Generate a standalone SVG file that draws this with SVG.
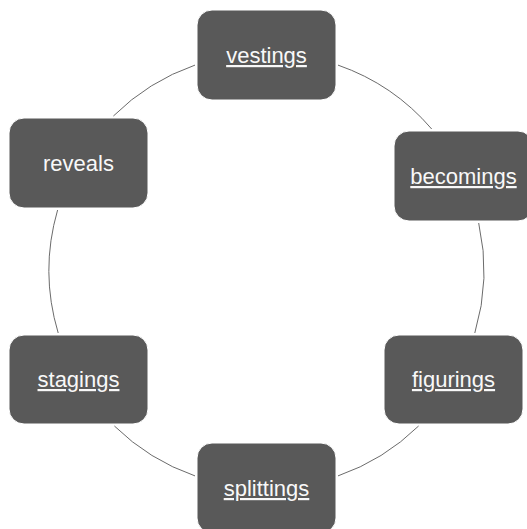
<svg xmlns="http://www.w3.org/2000/svg" width="527" height="529" viewBox="0 0 527 529">
<style>
.node rect{fill:#595959;stroke:#ffffff;stroke-width:1}
.node text{fill:#f8f8f8;font-family:"Liberation Sans",Arial,sans-serif;font-size:22px;text-anchor:middle}
.u{text-decoration:underline;text-decoration-color:#bdbdbd;text-decoration-thickness:1px;text-underline-offset:0px}
.conn path{fill:none;stroke:#6b6b6b;stroke-width:1}
</style>
<rect width="527" height="529" fill="#ffffff"/>
<g id="connectors" class="conn">
<path d="M338,65.1 A217.5,217.5 0 0 1 431.7,129"/>
<path d="M478.7,223 A217.5,217.5 0 0 1 474.8,333"/>
<path d="M418.6,426 A217.5,217.5 0 0 1 338,475.9"/>
<path d="M195,475.9 A217.5,217.5 0 0 1 114.4,426"/>
<path d="M58.2,333 A217.5,217.5 0 0 1 57.6,210"/>
<path d="M113.4,116 A217.5,217.5 0 0 1 195,65.1"/>
</g>
<g id="vestings" class="node"><rect x="197" y="10" width="139" height="90" rx="15"/><text class="u" x="266.5" y="63">vestings</text></g>
<g id="becomings" class="node"><rect x="394" y="131" width="139" height="90" rx="15"/><text class="u" x="463.5" y="184">becomings</text></g>
<g id="figurings" class="node"><rect x="384" y="335" width="139" height="89" rx="15"/><text class="u" x="453.5" y="387">figurings</text></g>
<g id="splittings" class="node"><rect x="197" y="443" width="139" height="90" rx="15"/><text class="u" x="266.5" y="496">splittings</text></g>
<g id="stagings" class="node"><rect x="9" y="335" width="139" height="89" rx="15"/><text class="u" x="78.5" y="387">stagings</text></g>
<g id="reveals" class="node"><rect x="9" y="118" width="139" height="90" rx="15"/><text x="78.5" y="171">reveals</text></g>
</svg>
